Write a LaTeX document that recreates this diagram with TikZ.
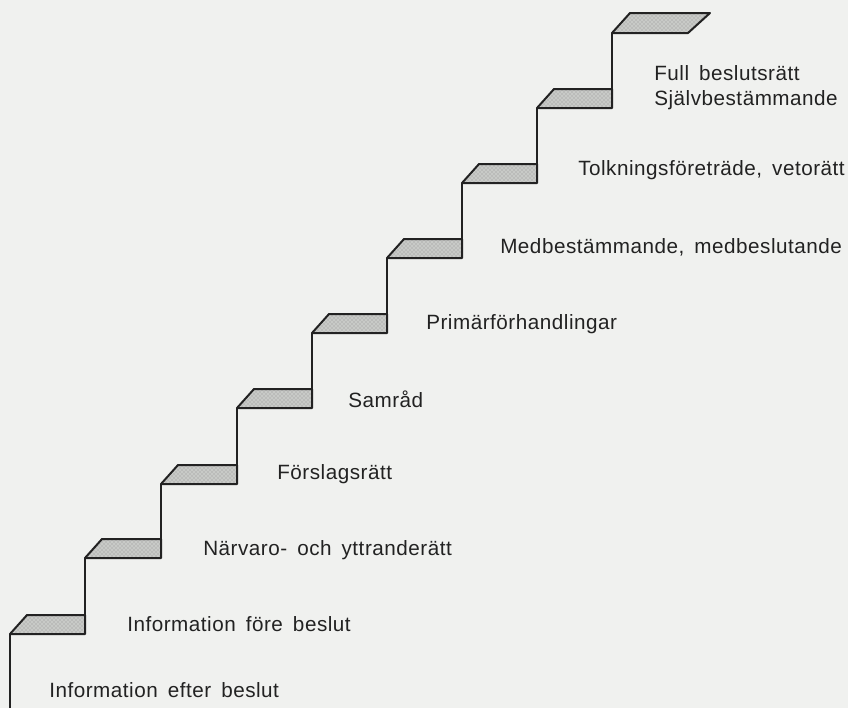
\documentclass[tikz,border=0pt]{standalone}
\usepackage{fontspec}
\setmainfont{Liberation Sans}[LetterSpace=2.5,WordSpace=1.6]
\usetikzlibrary{patterns}
\definecolor{StairInk}{HTML}{222222}
\definecolor{PaperTone}{HTML}{F0F1EF}
\definecolor{TreadGrey}{HTML}{C8CAC7}
\tikzset{riser/.style={draw=StairInk,line width=1.5pt},tread/.style={draw=StairInk,line width=1.5pt,line join=round,preaction={fill=TreadGrey},pattern=crosshatch dots,pattern color=StairInk!50},lbl/.style={anchor=base west,inner sep=0pt,text=StairInk,font=\fontsize{15.5}{18.75}\selectfont}}

\begin{document}
\begin{tikzpicture}[x=0.75pt,y=-0.75pt]
\fill[PaperTone] (0,0) rectangle (848,708);
\useasboundingbox (0,0) rectangle (848,708);
% treads
\draw[tread] (10,634)--(27,615)--(85,615)--(85,634)--cycle;
\draw[tread] (85,558)--(102,539)--(161,539)--(161,558)--cycle;
\draw[tread] (161,484)--(178,465)--(237,465)--(237,484)--cycle;
\draw[tread] (237,408)--(254,389)--(312,389)--(312,408)--cycle;
\draw[tread] (312,333)--(329,314)--(387,314)--(387,333)--cycle;
\draw[tread] (387,258)--(404,239)--(462,239)--(462,258)--cycle;
\draw[tread] (462,183)--(479,164)--(537,164)--(537,183)--cycle;
\draw[tread] (537,108)--(554,89)--(612,89)--(612,108)--cycle;
\draw[tread] (612,33)--(630,13)--(710,13)--(688,33)--cycle;
% risers
\draw[riser] (10,708)--(10,634);
\draw[riser] (85,634)--(85,558);
\draw[riser] (161,558)--(161,484);
\draw[riser] (237,484)--(237,408);
\draw[riser] (312,408)--(312,333);
\draw[riser] (387,333)--(387,258);
\draw[riser] (462,258)--(462,183);
\draw[riser] (537,183)--(537,108);
\draw[riser] (612,108)--(612,33);
% labels
\node[lbl] (efter) at (49,697) {Information efter beslut};
\node[lbl] (fore) at (127,631) {Information före beslut};
\node[lbl] (narvaro) at (203,555) {Närvaro- och yttranderätt};
\node[lbl] (forslag) at (277,479) {Förslagsrätt};
\node[lbl] (samrad) at (348,407) {Samråd};
\node[lbl] (primar) at (426,329) {Primärförhandlingar};
\node[lbl] (medbest) at (500,253) {Medbestämmande, medbeslutande};
\node[lbl] (tolkning) at (578,175) {Tolkningsföreträde, vetorätt};
\node[lbl,anchor=west,align=left] (full) at (654,88) {Full beslutsrätt\\Självbestämmande};
\end{tikzpicture}
\end{document}
